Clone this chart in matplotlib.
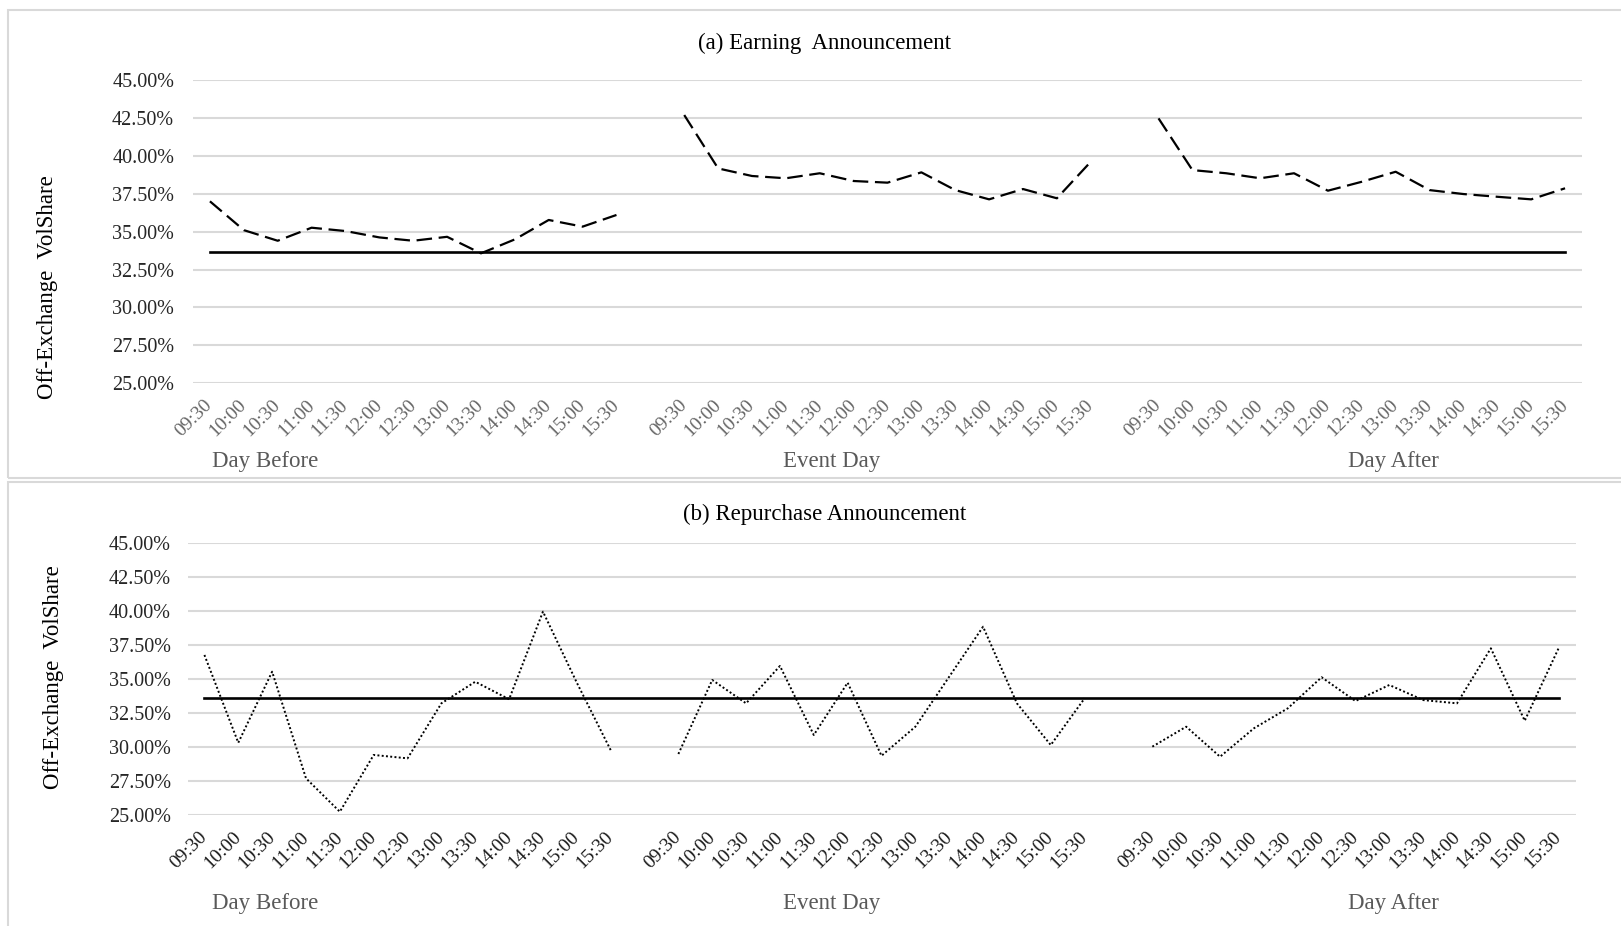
import numpy as np
import matplotlib.pyplot as plt
from matplotlib.patches import Rectangle

plt.rcParams['font.family'] = ['Liberation Serif', 'DejaVu Serif']

times = ['09:30', '10:00', '10:30', '11:00', '11:30', '12:00', '12:30',
         '13:00', '13:30', '14:00', '14:30', '15:00', '15:30']
days = ['Day Before', 'Event Day', 'Day After']

# (a) earning announcement, off-exchange volume share in %
earn_before = [37.0, 35.1, 34.4, 35.26, 35.04, 34.62, 34.4, 34.66, 33.57, 34.49, 35.77, 35.33, 36.1]
earn_event = [42.69, 39.17, 38.67, 38.52, 38.85, 38.34, 38.23, 38.91, 37.74, 37.13, 37.81, 37.2, 39.61]
earn_after = [42.47, 39.06, 38.85, 38.52, 38.85, 37.7, 38.29, 38.95, 37.74, 37.48, 37.3, 37.13, 37.86]
earn_bench = 33.65

# (b) repurchase announcement
rep_before = [36.78, 30.32, 35.55, 27.7, 25.24, 29.42, 29.17, 33.22, 34.81, 33.52, 39.97, 34.74, 29.78]
rep_event = [29.49, 34.94, 33.22, 35.97, 30.89, 34.74, 29.36, 31.5, 35.18, 38.86, 33.22, 30.15, 33.59]
rep_after = [30.03, 31.5, 29.29, 31.38, 32.85, 35.14, 33.39, 34.57, 33.46, 33.22, 37.27, 31.94, 37.27]
rep_bench = 33.6

W, H = 1621, 926
fig = plt.figure(figsize=(W / 100, H / 100), dpi=100)


def px(x0, y0, x1, y1):
    # pixel box -> figure fraction rect
    return [x0 / W, 1 - y1 / H, (x1 - x0) / W, (y1 - y0) / H]


def series(parts):
    # one blank category between the three days
    out = []
    for i, p in enumerate(parts):
        if i:
            out.append(np.nan)
        out.extend(p)
    return np.array(out) / 100


labels = times + [''] + times + [''] + times
xs = np.arange(len(labels))


def panel(rect, title, title_xy, ylab_xy, parts, bench, ls, lw, tick_col, ytick_pad, day_y):
    ax = fig.add_axes(px(*rect))
    ax.plot(xs, series(parts), color='black', linestyle=ls, linewidth=lw)
    ax.plot([xs[0], xs[-1]], [bench / 100, bench / 100], color='black', linewidth=1.9)
    ax.set_xlim(-0.5, len(labels) - 0.5)
    ax.set_ylim(0.25, 0.45)
    ax.set_yticks(np.arange(0.25, 0.4501, 0.025))
    ax.set_yticklabels([f'{v * 100:.2f}%' for v in ax.get_yticks()], fontsize=14.5, color='#262626')
    ax.set_xticks(xs)
    ax.set_xticklabels(labels, rotation=45, ha='right', va='center',
                       rotation_mode='anchor', fontsize=14, color=tick_col)
    ax.tick_params(axis='x', length=0, pad=14)
    ax.tick_params(axis='y', length=0, pad=ytick_pad)
    ax.yaxis.grid(True, color='#d9d9d9', linewidth=1.5)
    ax.set_axisbelow(True)
    for s in ax.spines.values():
        s.set_visible(False)
    fig.text(title_xy[0] / W, 1 - title_xy[1] / H, title, ha='center', va='center', fontsize=16.5)
    fig.text(ylab_xy[0] / W, 1 - ylab_xy[1] / H, 'Off-Exchange  VolShare', rotation=90,
             ha='center', va='center', fontsize=16.5)
    for name, dx in zip(days, [265, 832, 1393]):
        fig.text(dx / W, 1 - day_y / H, name, ha='center', va='center', fontsize=16.5, color='#595959')
    return ax


panel((193, 80, 1582, 383.3), '(a) Earning  Announcement', (825, 43), (48, 287),
      [earn_before, earn_event, earn_after], earn_bench, (0, (7, 3)), 1.6, '#666666', 13.5, 461)
panel((187.5, 543.3, 1575.5, 815), '(b) Repurchase Announcement', (825, 514), (54, 677),
      [rep_before, rep_event, rep_after], rep_bench, (0, (1, 1.2)), 1.4, '#1a1a1a', 12, 903)

# light frames around each panel
for y0, y1 in [(10, 478), (482, 960)]:
    fig.patches.append(Rectangle((8 / W, 1 - y1 / H), 1.0, (y1 - y0) / H, transform=fig.transFigure,
                                 fill=False, edgecolor='#d9d9d9', linewidth=1.5))

fig.savefig('out.png', dpi=100, facecolor='white')
